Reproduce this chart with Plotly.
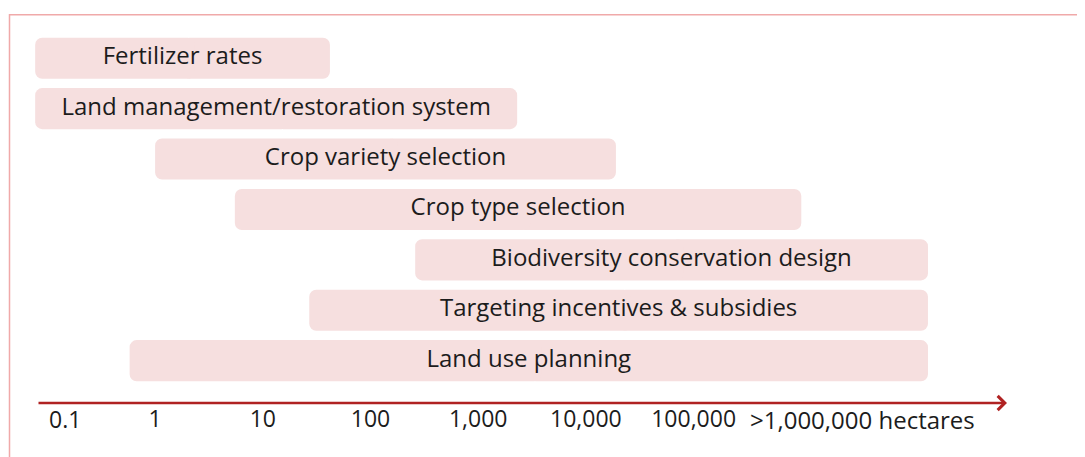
import numpy as np
import plotly.graph_objects as go

# ---- data (hectares) ----
activities = [
    "Fertilizer rates",
    "Land management/restoration system",
    "Crop variety selection",
    "Crop type selection",
    "Biodiversity conservation design",
    "Targeting incentives & subsidies",
    "Land use planning",
]
scale_start = [0.077, 0.077, 1.0, 5.5, 260, 27, 0.58]
scale_end = [42, 2300, 19000, 1000000, 15000000, 15000000, 15000000]

tick_values = [1, 10, 100, 1000, 10000, 100000]
tick_labels = ["1", "10", "100", "1,000", "10,000", "100,000"]
first_tick_value = 0.1
first_tick_label = "0.1"
last_label = ">1,000,000 hectares"

# ---- styles ----
BAR_COLOR = "#F6DFDF"
FRAME_COLOR = "#F0A9A9"
AXIS_COLOR = "#B02222"
TEXT_COLOR = "#1c1c1c"
W, H = 1077, 449          # page body adds an 8px margin
PLOT_TOP, PLOT_BOTTOM = 24.3, 395.0
PLOT_H = PLOT_BOTTOM - PLOT_TOP

start = np.array(scale_start, dtype=float)
end = np.array(scale_end, dtype=float)
mid = np.sqrt(start * end)
ypos = list(range(len(activities)))

fig = go.Figure()
# right part (rounded at right end)
fig.add_trace(go.Bar(
    y=ypos, x=end - mid, base=mid, orientation="h", width=0.815,
    marker=dict(color=BAR_COLOR, line=dict(width=0), cornerradius=7),
    hoverinfo="skip", showlegend=False,
))
# left part (rounded at left end), overlapping the right part slightly
overlap_base = mid * 1.3
fig.add_trace(go.Bar(
    y=ypos, x=start - overlap_base, base=overlap_base, orientation="h", width=0.815,
    marker=dict(color=BAR_COLOR, line=dict(width=0), cornerradius=7),
    hoverinfo="skip", showlegend=False,
))
fig.add_trace(go.Scatter(
    y=ypos, x=mid, mode="text", text=activities,
    textposition="middle center",
    textfont=dict(family="Open Sans", size=24, color=TEXT_COLOR),
    hoverinfo="skip", showlegend=False,
))

fig.update_layout(
    width=W, height=H,
    margin=dict(l=0, r=0, t=PLOT_TOP, b=H - PLOT_BOTTOM, pad=0),
    paper_bgcolor="white", plot_bgcolor="rgba(0,0,0,0)",
    barmode="overlay",
    xaxis=dict(
        type="log", range=[-147.1 / 107.7, (W - 147.1) / 107.7],
        showgrid=False, zeroline=False, showline=False,
        tickmode="array", tickvals=tick_values, ticktext=tick_labels,
        ticks="", ticklabelstandoff=0,
        tickfont=dict(family="Open Sans", size=23, color=TEXT_COLOR),
    ),
    yaxis=dict(
        range=[6.84, -0.52], showgrid=False, zeroline=False,
        showline=False, showticklabels=False, ticks="",
    ),
)

# frame (partially visible rectangle)
fig.add_shape(type="rect", xref="paper", yref="paper",
              x0=1.5 / W, x1=1.05, y0=-0.3, y1=1 + (PLOT_TOP - 7) / PLOT_H,
              line=dict(color=FRAME_COLOR, width=1.5), layer="below")

# axis arrow
fig.add_annotation(
    xref="x domain", yref="y domain", axref="x domain", ayref="y domain",
    x=999 / W, y=0, ax=29 / W, ay=0, text="",
    showarrow=True, arrowhead=4, arrowsize=1.1, arrowwidth=2.5,
    arrowcolor=AXIS_COLOR,
)

# first and last axis labels
fig.add_annotation(
    x=np.log10(first_tick_value), y=0, xref="x", yref="y domain",
    yanchor="top", xshift=18, yshift=2, showarrow=False,
    text=first_tick_label, font=dict(family="Open Sans", size=23, color=TEXT_COLOR),
)
fig.add_annotation(
    x=740 / W, y=0, xref="paper", yref="y domain", xanchor="left",
    yanchor="top", yshift=2, showarrow=False,
    text=last_label, font=dict(family="Open Sans", size=24, color=TEXT_COLOR),
)

fig.write_html("out.html")
